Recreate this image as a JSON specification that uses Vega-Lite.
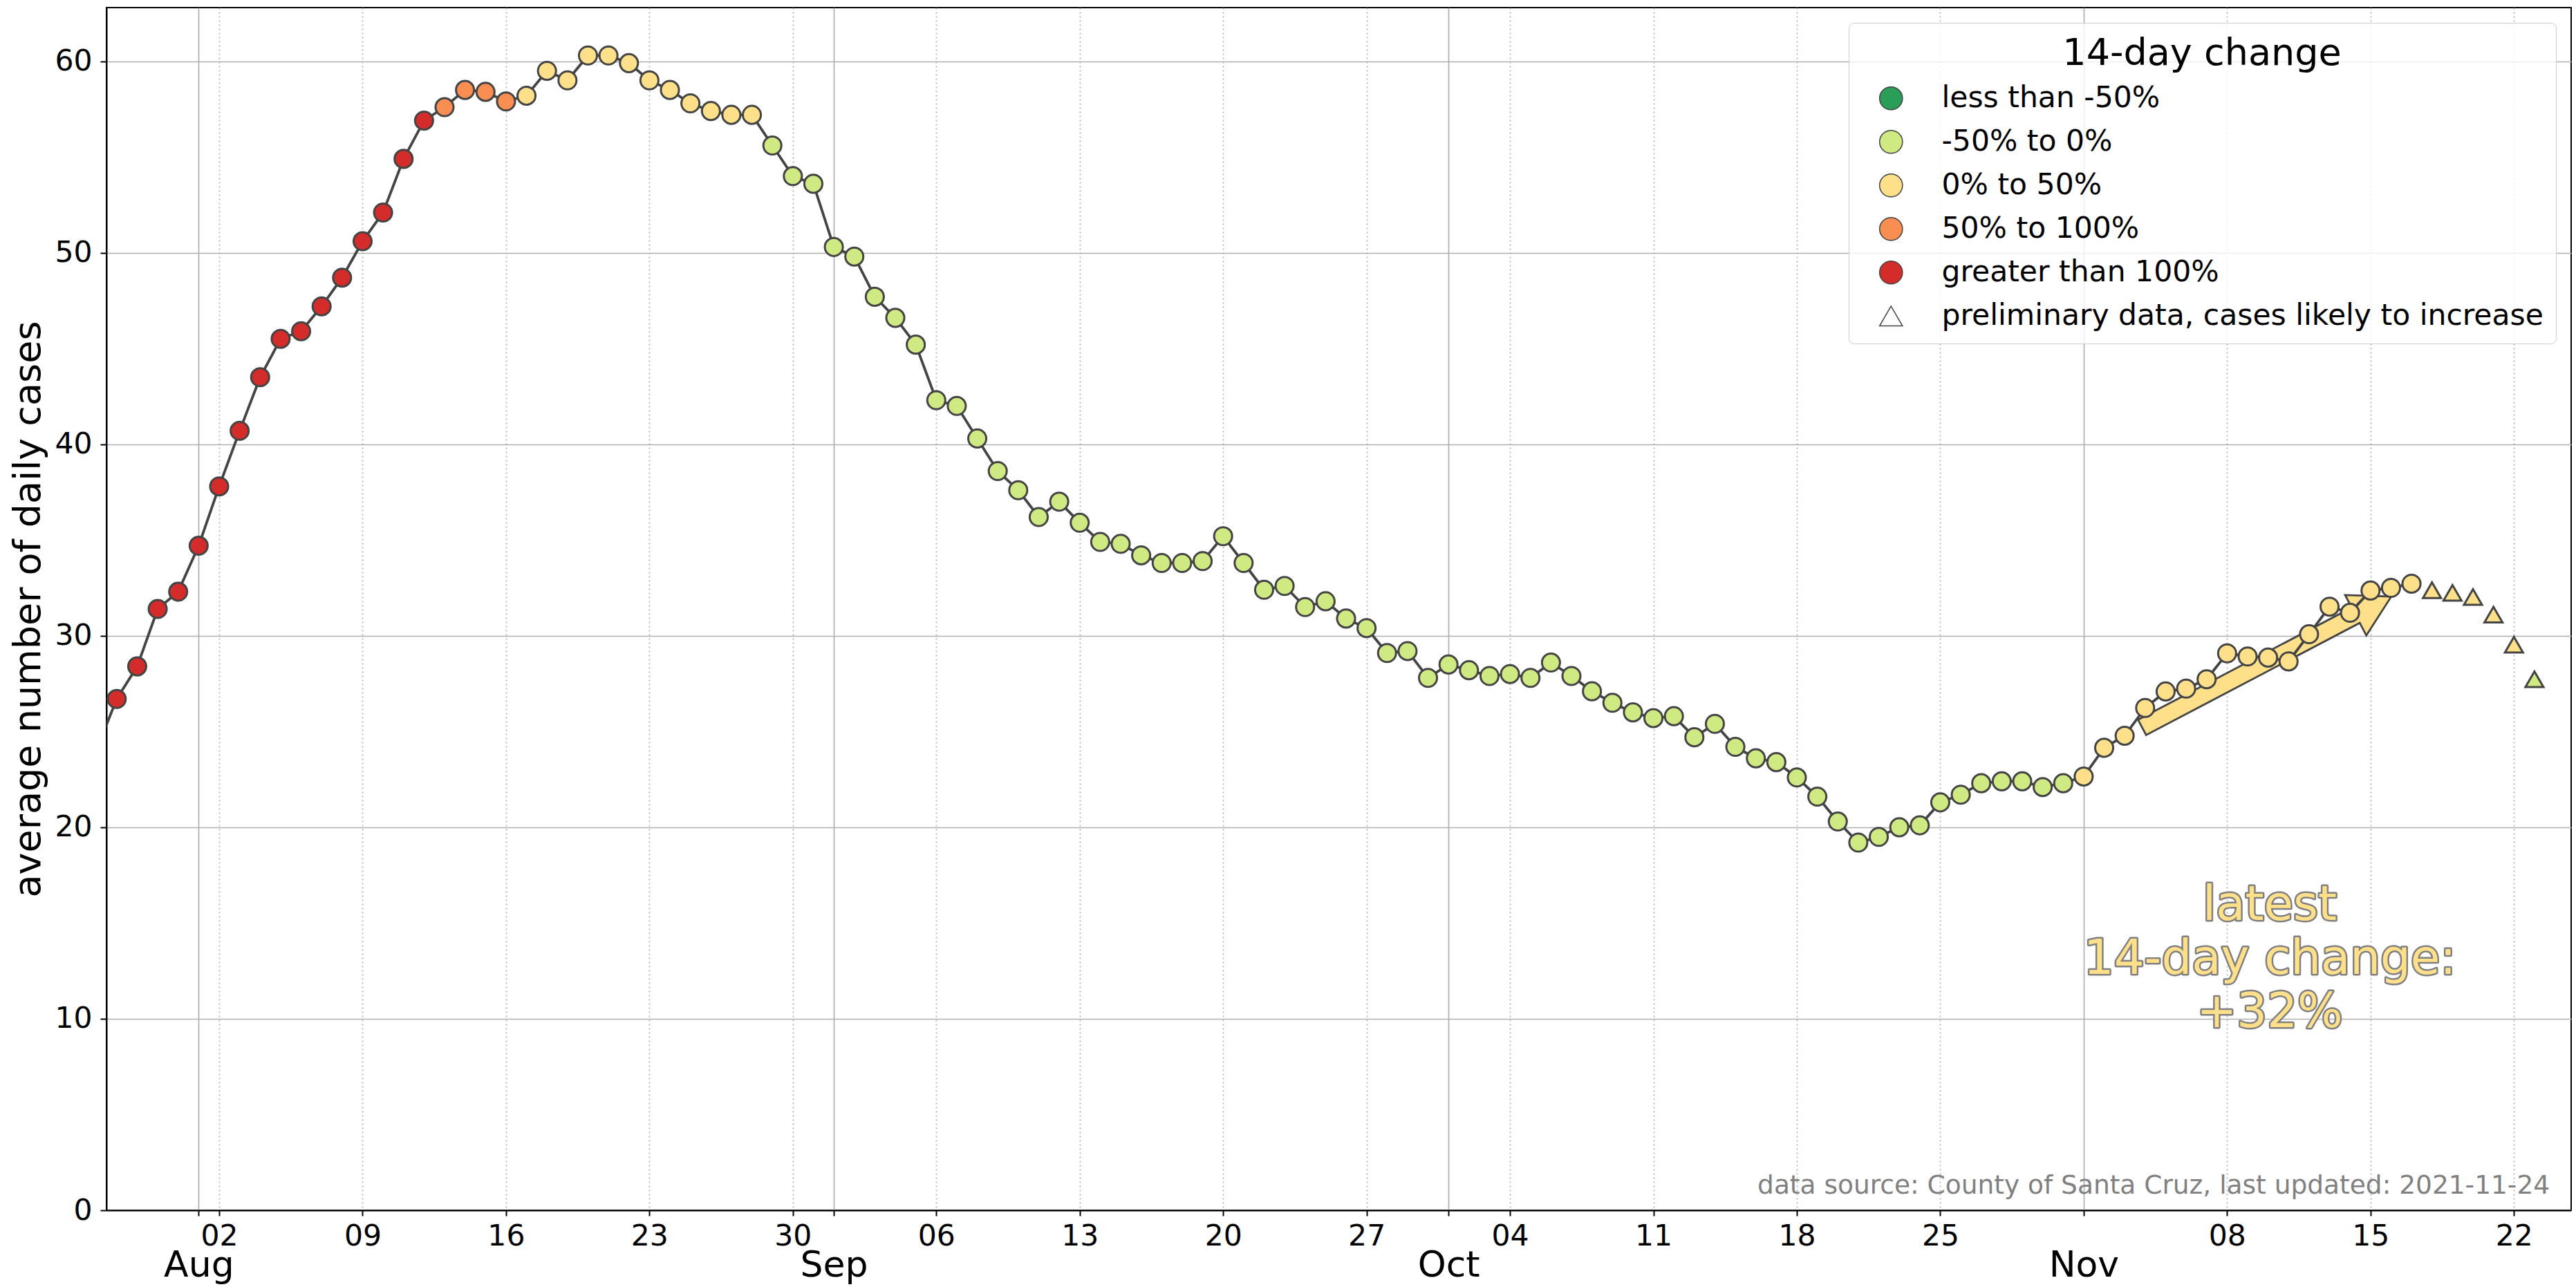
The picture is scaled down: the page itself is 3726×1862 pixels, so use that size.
{
  "$schema": "https://vega.github.io/schema/vega-lite/v6.json",
  "width": 3565,
  "height": 1740,
  "autosize": {"type": "none"},
  "padding": {"left": 154, "top": 11, "right": 7, "bottom": 111},
  "background": "white",
  "config": {
    "font": "DejaVu Sans",
    "view": {"stroke": "black", "strokeWidth": 2},
    "axis": {
      "labelFont": "DejaVu Sans", "titleFont": "DejaVu Sans",
      "labelColor": "black", "titleColor": "black",
      "domainColor": "black", "domainWidth": 2,
      "tickColor": "black", "tickWidth": 2,
      "gridColor": "#b0b0b0", "gridWidth": 1.7
    },
    "legend": {
      "titleFont": "DejaVu Sans", "titleFontSize": 54, "titleFontWeight": "normal", "titleColor": "black",
      "titleAnchor": "middle", "titlePadding": 16, "titleLimit": 3000,
      "labelFont": "DejaVu Sans", "labelFontSize": 42.5, "labelColor": "black", "labelOffset": 52, "labelLimit": 3000,
      "symbolSize": 1100, "symbolOffset": 22,
      "rowPadding": 20, "padding": 18,
      "fillColor": "rgba(255,255,255,0.8)", "strokeColor": "#cccccc", "cornerRadius": 8
    }
  },
  "datasets": {
    "cases": [
      {"date": "2021-07-27T00:00:00", "cases": 24.0, "change": "greater than 100%", "marker": "greater than 100%"},
      {"date": "2021-07-28T00:00:00", "cases": 26.7, "change": "greater than 100%", "marker": "greater than 100%"},
      {"date": "2021-07-29T00:00:00", "cases": 28.4, "change": "greater than 100%", "marker": "greater than 100%"},
      {"date": "2021-07-30T00:00:00", "cases": 31.4, "change": "greater than 100%", "marker": "greater than 100%"},
      {"date": "2021-07-31T00:00:00", "cases": 32.3, "change": "greater than 100%", "marker": "greater than 100%"},
      {"date": "2021-08-01T00:00:00", "cases": 34.7, "change": "greater than 100%", "marker": "greater than 100%"},
      {"date": "2021-08-02T00:00:00", "cases": 37.8, "change": "greater than 100%", "marker": "greater than 100%"},
      {"date": "2021-08-03T00:00:00", "cases": 40.7, "change": "greater than 100%", "marker": "greater than 100%"},
      {"date": "2021-08-04T00:00:00", "cases": 43.5, "change": "greater than 100%", "marker": "greater than 100%"},
      {"date": "2021-08-05T00:00:00", "cases": 45.5, "change": "greater than 100%", "marker": "greater than 100%"},
      {"date": "2021-08-06T00:00:00", "cases": 45.9, "change": "greater than 100%", "marker": "greater than 100%"},
      {"date": "2021-08-07T00:00:00", "cases": 47.2, "change": "greater than 100%", "marker": "greater than 100%"},
      {"date": "2021-08-08T00:00:00", "cases": 48.7, "change": "greater than 100%", "marker": "greater than 100%"},
      {"date": "2021-08-09T00:00:00", "cases": 50.6, "change": "greater than 100%", "marker": "greater than 100%"},
      {"date": "2021-08-10T00:00:00", "cases": 52.1, "change": "greater than 100%", "marker": "greater than 100%"},
      {"date": "2021-08-11T00:00:00", "cases": 54.9, "change": "greater than 100%", "marker": "greater than 100%"},
      {"date": "2021-08-12T00:00:00", "cases": 56.9, "change": "greater than 100%", "marker": "greater than 100%"},
      {"date": "2021-08-13T00:00:00", "cases": 57.6, "change": "50% to 100%", "marker": "50% to 100%"},
      {"date": "2021-08-14T00:00:00", "cases": 58.5, "change": "50% to 100%", "marker": "50% to 100%"},
      {"date": "2021-08-15T00:00:00", "cases": 58.4, "change": "50% to 100%", "marker": "50% to 100%"},
      {"date": "2021-08-16T00:00:00", "cases": 57.9, "change": "50% to 100%", "marker": "50% to 100%"},
      {"date": "2021-08-17T00:00:00", "cases": 58.2, "change": "0% to 50%", "marker": "0% to 50%"},
      {"date": "2021-08-18T00:00:00", "cases": 59.5, "change": "0% to 50%", "marker": "0% to 50%"},
      {"date": "2021-08-19T00:00:00", "cases": 59.0, "change": "0% to 50%", "marker": "0% to 50%"},
      {"date": "2021-08-20T00:00:00", "cases": 60.3, "change": "0% to 50%", "marker": "0% to 50%"},
      {"date": "2021-08-21T00:00:00", "cases": 60.3, "change": "0% to 50%", "marker": "0% to 50%"},
      {"date": "2021-08-22T00:00:00", "cases": 59.9, "change": "0% to 50%", "marker": "0% to 50%"},
      {"date": "2021-08-23T00:00:00", "cases": 59.0, "change": "0% to 50%", "marker": "0% to 50%"},
      {"date": "2021-08-24T00:00:00", "cases": 58.5, "change": "0% to 50%", "marker": "0% to 50%"},
      {"date": "2021-08-25T00:00:00", "cases": 57.8, "change": "0% to 50%", "marker": "0% to 50%"},
      {"date": "2021-08-26T00:00:00", "cases": 57.4, "change": "0% to 50%", "marker": "0% to 50%"},
      {"date": "2021-08-27T00:00:00", "cases": 57.2, "change": "0% to 50%", "marker": "0% to 50%"},
      {"date": "2021-08-28T00:00:00", "cases": 57.2, "change": "0% to 50%", "marker": "0% to 50%"},
      {"date": "2021-08-29T00:00:00", "cases": 55.6, "change": "-50% to 0%", "marker": "-50% to 0%"},
      {"date": "2021-08-30T00:00:00", "cases": 54.0, "change": "-50% to 0%", "marker": "-50% to 0%"},
      {"date": "2021-08-31T00:00:00", "cases": 53.6, "change": "-50% to 0%", "marker": "-50% to 0%"},
      {"date": "2021-09-01T00:00:00", "cases": 50.3, "change": "-50% to 0%", "marker": "-50% to 0%"},
      {"date": "2021-09-02T00:00:00", "cases": 49.8, "change": "-50% to 0%", "marker": "-50% to 0%"},
      {"date": "2021-09-03T00:00:00", "cases": 47.7, "change": "-50% to 0%", "marker": "-50% to 0%"},
      {"date": "2021-09-04T00:00:00", "cases": 46.6, "change": "-50% to 0%", "marker": "-50% to 0%"},
      {"date": "2021-09-05T00:00:00", "cases": 45.2, "change": "-50% to 0%", "marker": "-50% to 0%"},
      {"date": "2021-09-06T00:00:00", "cases": 42.3, "change": "-50% to 0%", "marker": "-50% to 0%"},
      {"date": "2021-09-07T00:00:00", "cases": 42.0, "change": "-50% to 0%", "marker": "-50% to 0%"},
      {"date": "2021-09-08T00:00:00", "cases": 40.3, "change": "-50% to 0%", "marker": "-50% to 0%"},
      {"date": "2021-09-09T00:00:00", "cases": 38.6, "change": "-50% to 0%", "marker": "-50% to 0%"},
      {"date": "2021-09-10T00:00:00", "cases": 37.6, "change": "-50% to 0%", "marker": "-50% to 0%"},
      {"date": "2021-09-11T00:00:00", "cases": 36.2, "change": "-50% to 0%", "marker": "-50% to 0%"},
      {"date": "2021-09-12T00:00:00", "cases": 37.0, "change": "-50% to 0%", "marker": "-50% to 0%"},
      {"date": "2021-09-13T00:00:00", "cases": 35.9, "change": "-50% to 0%", "marker": "-50% to 0%"},
      {"date": "2021-09-14T00:00:00", "cases": 34.9, "change": "-50% to 0%", "marker": "-50% to 0%"},
      {"date": "2021-09-15T00:00:00", "cases": 34.8, "change": "-50% to 0%", "marker": "-50% to 0%"},
      {"date": "2021-09-16T00:00:00", "cases": 34.2, "change": "-50% to 0%", "marker": "-50% to 0%"},
      {"date": "2021-09-17T00:00:00", "cases": 33.8, "change": "-50% to 0%", "marker": "-50% to 0%"},
      {"date": "2021-09-18T00:00:00", "cases": 33.8, "change": "-50% to 0%", "marker": "-50% to 0%"},
      {"date": "2021-09-19T00:00:00", "cases": 33.9, "change": "-50% to 0%", "marker": "-50% to 0%"},
      {"date": "2021-09-20T00:00:00", "cases": 35.2, "change": "-50% to 0%", "marker": "-50% to 0%"},
      {"date": "2021-09-21T00:00:00", "cases": 33.8, "change": "-50% to 0%", "marker": "-50% to 0%"},
      {"date": "2021-09-22T00:00:00", "cases": 32.4, "change": "-50% to 0%", "marker": "-50% to 0%"},
      {"date": "2021-09-23T00:00:00", "cases": 32.6, "change": "-50% to 0%", "marker": "-50% to 0%"},
      {"date": "2021-09-24T00:00:00", "cases": 31.5, "change": "-50% to 0%", "marker": "-50% to 0%"},
      {"date": "2021-09-25T00:00:00", "cases": 31.8, "change": "-50% to 0%", "marker": "-50% to 0%"},
      {"date": "2021-09-26T00:00:00", "cases": 30.9, "change": "-50% to 0%", "marker": "-50% to 0%"},
      {"date": "2021-09-27T00:00:00", "cases": 30.4, "change": "-50% to 0%", "marker": "-50% to 0%"},
      {"date": "2021-09-28T00:00:00", "cases": 29.1, "change": "-50% to 0%", "marker": "-50% to 0%"},
      {"date": "2021-09-29T00:00:00", "cases": 29.2, "change": "-50% to 0%", "marker": "-50% to 0%"},
      {"date": "2021-09-30T00:00:00", "cases": 27.8, "change": "-50% to 0%", "marker": "-50% to 0%"},
      {"date": "2021-10-01T00:00:00", "cases": 28.5, "change": "-50% to 0%", "marker": "-50% to 0%"},
      {"date": "2021-10-02T00:00:00", "cases": 28.2, "change": "-50% to 0%", "marker": "-50% to 0%"},
      {"date": "2021-10-03T00:00:00", "cases": 27.9, "change": "-50% to 0%", "marker": "-50% to 0%"},
      {"date": "2021-10-04T00:00:00", "cases": 28.0, "change": "-50% to 0%", "marker": "-50% to 0%"},
      {"date": "2021-10-05T00:00:00", "cases": 27.8, "change": "-50% to 0%", "marker": "-50% to 0%"},
      {"date": "2021-10-06T00:00:00", "cases": 28.6, "change": "-50% to 0%", "marker": "-50% to 0%"},
      {"date": "2021-10-07T00:00:00", "cases": 27.9, "change": "-50% to 0%", "marker": "-50% to 0%"},
      {"date": "2021-10-08T00:00:00", "cases": 27.1, "change": "-50% to 0%", "marker": "-50% to 0%"},
      {"date": "2021-10-09T00:00:00", "cases": 26.5, "change": "-50% to 0%", "marker": "-50% to 0%"},
      {"date": "2021-10-10T00:00:00", "cases": 26.0, "change": "-50% to 0%", "marker": "-50% to 0%"},
      {"date": "2021-10-11T00:00:00", "cases": 25.7, "change": "-50% to 0%", "marker": "-50% to 0%"},
      {"date": "2021-10-12T00:00:00", "cases": 25.8, "change": "-50% to 0%", "marker": "-50% to 0%"},
      {"date": "2021-10-13T00:00:00", "cases": 24.7, "change": "-50% to 0%", "marker": "-50% to 0%"},
      {"date": "2021-10-14T00:00:00", "cases": 25.4, "change": "-50% to 0%", "marker": "-50% to 0%"},
      {"date": "2021-10-15T00:00:00", "cases": 24.2, "change": "-50% to 0%", "marker": "-50% to 0%"},
      {"date": "2021-10-16T00:00:00", "cases": 23.6, "change": "-50% to 0%", "marker": "-50% to 0%"},
      {"date": "2021-10-17T00:00:00", "cases": 23.4, "change": "-50% to 0%", "marker": "-50% to 0%"},
      {"date": "2021-10-18T00:00:00", "cases": 22.6, "change": "-50% to 0%", "marker": "-50% to 0%"},
      {"date": "2021-10-19T00:00:00", "cases": 21.6, "change": "-50% to 0%", "marker": "-50% to 0%"},
      {"date": "2021-10-20T00:00:00", "cases": 20.3, "change": "-50% to 0%", "marker": "-50% to 0%"},
      {"date": "2021-10-21T00:00:00", "cases": 19.2, "change": "-50% to 0%", "marker": "-50% to 0%"},
      {"date": "2021-10-22T00:00:00", "cases": 19.5, "change": "-50% to 0%", "marker": "-50% to 0%"},
      {"date": "2021-10-23T00:00:00", "cases": 20.0, "change": "-50% to 0%", "marker": "-50% to 0%"},
      {"date": "2021-10-24T00:00:00", "cases": 20.1, "change": "-50% to 0%", "marker": "-50% to 0%"},
      {"date": "2021-10-25T00:00:00", "cases": 21.3, "change": "-50% to 0%", "marker": "-50% to 0%"},
      {"date": "2021-10-26T00:00:00", "cases": 21.7, "change": "-50% to 0%", "marker": "-50% to 0%"},
      {"date": "2021-10-27T00:00:00", "cases": 22.3, "change": "-50% to 0%", "marker": "-50% to 0%"},
      {"date": "2021-10-28T00:00:00", "cases": 22.4, "change": "-50% to 0%", "marker": "-50% to 0%"},
      {"date": "2021-10-29T00:00:00", "cases": 22.4, "change": "-50% to 0%", "marker": "-50% to 0%"},
      {"date": "2021-10-30T00:00:00", "cases": 22.1, "change": "-50% to 0%", "marker": "-50% to 0%"},
      {"date": "2021-10-31T00:00:00", "cases": 22.3, "change": "-50% to 0%", "marker": "-50% to 0%"},
      {"date": "2021-11-01T00:00:00", "cases": 22.65, "change": "0% to 50%", "marker": "0% to 50%"},
      {"date": "2021-11-02T00:00:00", "cases": 24.15, "change": "0% to 50%", "marker": "0% to 50%"},
      {"date": "2021-11-03T00:00:00", "cases": 24.78, "change": "0% to 50%", "marker": "0% to 50%"},
      {"date": "2021-11-04T00:00:00", "cases": 26.23, "change": "0% to 50%", "marker": "0% to 50%"},
      {"date": "2021-11-05T00:00:00", "cases": 27.09, "change": "0% to 50%", "marker": "0% to 50%"},
      {"date": "2021-11-06T00:00:00", "cases": 27.24, "change": "0% to 50%", "marker": "0% to 50%"},
      {"date": "2021-11-07T00:00:00", "cases": 27.73, "change": "0% to 50%", "marker": "0% to 50%"},
      {"date": "2021-11-08T00:00:00", "cases": 29.08, "change": "0% to 50%", "marker": "0% to 50%"},
      {"date": "2021-11-09T00:00:00", "cases": 28.92, "change": "0% to 50%", "marker": "0% to 50%"},
      {"date": "2021-11-10T00:00:00", "cases": 28.86, "change": "0% to 50%", "marker": "0% to 50%"},
      {"date": "2021-11-11T00:00:00", "cases": 28.66, "change": "0% to 50%", "marker": "0% to 50%"},
      {"date": "2021-11-12T00:00:00", "cases": 30.08, "change": "0% to 50%", "marker": "0% to 50%"},
      {"date": "2021-11-13T00:00:00", "cases": 31.52, "change": "0% to 50%", "marker": "0% to 50%"},
      {"date": "2021-11-14T00:00:00", "cases": 31.2, "change": "0% to 50%", "marker": "0% to 50%"},
      {"date": "2021-11-15T00:00:00", "cases": 32.36, "change": "0% to 50%", "marker": "0% to 50%"},
      {"date": "2021-11-16T00:00:00", "cases": 32.5, "change": "0% to 50%", "marker": "0% to 50%"},
      {"date": "2021-11-17T00:00:00", "cases": 32.72, "change": "0% to 50%", "marker": "0% to 50%"},
      {"date": "2021-11-18T00:00:00", "cases": 32.38, "change": "0% to 50%", "marker": "preliminary data, cases likely to increase"},
      {"date": "2021-11-19T00:00:00", "cases": 32.24, "change": "0% to 50%", "marker": "preliminary data, cases likely to increase"},
      {"date": "2021-11-20T00:00:00", "cases": 32.02, "change": "0% to 50%", "marker": "preliminary data, cases likely to increase"},
      {"date": "2021-11-21T00:00:00", "cases": 31.1, "change": "0% to 50%", "marker": "preliminary data, cases likely to increase"},
      {"date": "2021-11-22T00:00:00", "cases": 29.53, "change": "0% to 50%", "marker": "preliminary data, cases likely to increase"},
      {"date": "2021-11-23T00:00:00", "cases": 27.73, "change": "-50% to 0%", "marker": "preliminary data, cases likely to increase"}
    ],
    "arrow": [
      {"date": "2021-11-09T22:20:00", "cases": 28.63}
    ],
    "notes": [
      {"date": "2021-11-10T02:00:00", "cases": 15.9, "label": "latest\n14-day change:\n+32%"}
    ],
    "footer": [
      {"date": "2021-11-23T18:00:00", "cases": 0.87, "label": "data source: County of Santa Cruz, last updated: 2021-11-24"}
    ]
  },
  "encoding": {
    "x": {
      "field": "date", "type": "temporal",
      "scale": {"domain": [{"year": 2021, "month": 7, "date": 27, "hours": 12}, {"year": 2021, "month": 11, "date": 24, "hours": 19}]},
      "axis": {
        "title": null,
        "values": [
          {"year": 2021, "month": 8, "date": 1}, {"year": 2021, "month": 8, "date": 2}, {"year": 2021, "month": 8, "date": 9},
          {"year": 2021, "month": 8, "date": 16}, {"year": 2021, "month": 8, "date": 23}, {"year": 2021, "month": 8, "date": 30},
          {"year": 2021, "month": 9, "date": 1}, {"year": 2021, "month": 9, "date": 6}, {"year": 2021, "month": 9, "date": 13},
          {"year": 2021, "month": 9, "date": 20}, {"year": 2021, "month": 9, "date": 27}, {"year": 2021, "month": 10, "date": 1},
          {"year": 2021, "month": 10, "date": 4}, {"year": 2021, "month": 10, "date": 11}, {"year": 2021, "month": 10, "date": 18},
          {"year": 2021, "month": 10, "date": 25}, {"year": 2021, "month": 11, "date": 1}, {"year": 2021, "month": 11, "date": 8},
          {"year": 2021, "month": 11, "date": 15}, {"year": 2021, "month": 11, "date": 22}
        ],
        "labelExpr": "date(datum.value) == 1 ? timeFormat(datum.value, '%b') : timeFormat(datum.value, '%d')",
        "labelFontSize": {"condition": {"test": "date(datum.value) == 1", "value": 52}, "value": 42.5},
        "labelPadding": {"condition": {"test": "date(datum.value) == 1", "value": 46}, "value": 8},
        "gridDash": {"condition": {"test": "date(datum.value) == 1", "value": []}, "value": [2, 4]},
        "tickSize": 8,
        "labelOverlap": false,
        "labelFlush": false
      }
    },
    "y": {
      "field": "cases", "type": "quantitative",
      "scale": {"domain": [0, 62.8], "nice": false, "zero": true},
      "axis": {
        "values": [0, 10, 20, 30, 40, 50, 60],
        "title": "average number of daily cases",
        "titleFontSize": 54, "titleFontWeight": "normal", "titlePadding": 10,
        "labelFontSize": 42.5, "tickSize": 9, "labelPadding": 12
      }
    }
  },
  "layer": [
    {
      "data": {"name": "arrow"},
      "mark": {
        "type": "point", "filled": true, "opacity": 1, "clip": true,
        "shape": "M -1 -0.0614 L 0.715 -0.0614 L 0.715 -0.162 L 1 0 L 0.715 0.162 L 0.715 0.0614 L -1 0.0614 Z",
        "size": 165649, "angle": -27.7,
        "fill": "#fee08b", "stroke": "#444444", "strokeWidth": 2.8
      }
    },
    {
      "data": {"name": "cases"},
      "transform": [{"filter": {"not": {"field": "marker", "equal": "preliminary data, cases likely to increase"}}}],
      "mark": {"type": "line", "color": "#444444", "strokeWidth": 3.8, "clip": true}
    },
    {
      "data": {"name": "cases"},
      "mark": {"type": "point", "filled": true, "opacity": 1, "size": 680, "stroke": "#444444", "strokeWidth": 3, "clip": true},
      "encoding": {
        "fill": {
          "field": "change", "type": "nominal",
          "scale": {
            "domain": ["less than -50%", "-50% to 0%", "0% to 50%", "50% to 100%", "greater than 100%", "preliminary data, cases likely to increase"],
            "range": ["#2a9e58", "#cfe983", "#fee08b", "#f98e52", "#d42c2a", "#ffffff"]
          },
          "legend": {
            "title": "14-day change", "orient": "none", "legendX": 2520, "legendY": 22,
            "encode": {"symbols": {"stroke": {"value": "#444444"}, "strokeWidth": {"value": 3}, "strokeOpacity": {"value": 1}}}
          }
        },
        "shape": {
          "field": "marker", "type": "nominal",
          "scale": {
            "domain": ["less than -50%", "-50% to 0%", "0% to 50%", "50% to 100%", "greater than 100%", "preliminary data, cases likely to increase"],
            "range": ["circle", "circle", "circle", "circle", "circle", "triangle-up"]
          },
          "legend": {
            "title": "14-day change", "orient": "none", "legendX": 2520, "legendY": 22,
            "encode": {"symbols": {"stroke": {"value": "#444444"}, "strokeWidth": {"value": 3}, "strokeOpacity": {"value": 1}}}
          }
        }
      }
    },
    {
      "data": {"name": "notes"},
      "mark": {
        "type": "text", "lineBreak": "\n", "font": "DejaVu Sans", "fontSize": 69, "lineHeight": 77.5,
        "align": "center", "baseline": "middle",
        "fill": "#808080", "stroke": "#808080", "strokeWidth": 5, "strokeJoin": "round"
      },
      "encoding": {"text": {"field": "label"}}
    },
    {
      "data": {"name": "notes"},
      "mark": {
        "type": "text", "lineBreak": "\n", "font": "DejaVu Sans", "fontSize": 69, "lineHeight": 77.5,
        "align": "center", "baseline": "middle", "fill": "#fee08b"
      },
      "encoding": {"text": {"field": "label"}}
    },
    {
      "data": {"name": "footer"},
      "mark": {
        "type": "text", "font": "DejaVu Sans", "fontSize": 37.5,
        "align": "right", "baseline": "alphabetic", "fill": "#808080"
      },
      "encoding": {"text": {"field": "label"}}
    }
  ]
}
